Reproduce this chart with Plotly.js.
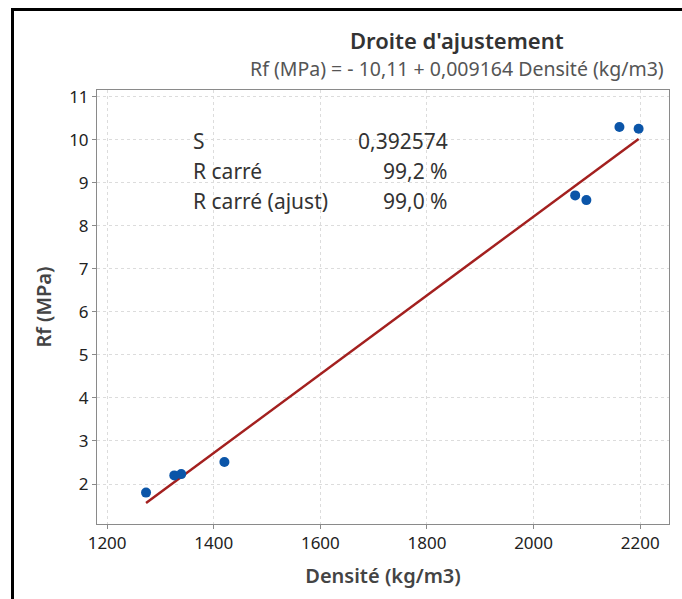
<!DOCTYPE html>
<html>
<head>
<meta charset="utf-8">
<script src="https://cdn.plot.ly/plotly-3.0.1.min.js"></script>
<style>
html,body{margin:0;padding:0;background:#fff;}
#wrap{position:relative;width:682px;height:599px;}
#chart{position:absolute;left:0;top:0;width:682px;height:599px;}
#frame{position:absolute;left:11px;top:8px;width:700px;height:620px;border-left:3px solid #000;border-top:3px solid #000;pointer-events:none;}
</style>
</head>
<body>
<div id="wrap"><div id="chart"></div><div id="frame"></div></div>
<script>
// Data
const densite = [1273, 1326, 1339, 1420, 2078, 2099, 2161, 2197];
const rf = [1.80, 2.20, 2.23, 2.51, 8.71, 8.60, 10.30, 10.26];
const intercept = -10.11;
const slope = 0.009164;
const statLabels = ["S", "R carré", "R carré (ajust)"];
const statValues = ["0,392574", "99,2 %", "99,0 %"];
const xTicks = [1200, 1400, 1600, 1800, 2000, 2200];
const yTicks = [2, 3, 4, 5, 6, 7, 8, 9, 10, 11];

const xMin = Math.min(...densite), xMax = Math.max(...densite);
const fitX = [xMin, xMax];
const fitY = fitX.map(v => intercept + slope * v);

const font = "Noto Sans, Open Sans, sans-serif";
const traces = [
  {x: fitX, y: fitY, type: 'scatter', mode: 'lines',
   line: {color: '#A3201F', width: 2.5}, hoverinfo: 'skip'},
  {x: densite, y: rf, type: 'scatter', mode: 'markers',
   marker: {color: '#0B55A8', size: 10, symbol: 'circle'}}
];

const statY = [0.8825, 0.814, 0.745];
const annotations = [
  {text: "Droite d'ajustement", xref: 'paper', yref: 'paper', x: 0.629, y: 1.1152,
   xanchor: 'center', yanchor: 'middle', showarrow: false,
   font: {family: font, size: 22, color: '#333', weight: 600}},
  {text: "Rf (MPa) = - 10,11 + 0,009164 Densité (kg/m3)", xref: 'paper', yref: 'paper', x: 0.630, y: 1.0484,
   xanchor: 'center', yanchor: 'middle', showarrow: false,
   font: {family: font, size: 19.5, color: '#555'}}
];
statLabels.forEach((t, i) => {
  annotations.push({text: t, xref: 'paper', yref: 'paper', x: 0.164, y: statY[i],
    xanchor: 'left', yanchor: 'middle', showarrow: false,
    font: {family: font, size: 21, color: '#333'}});
  annotations.push({text: statValues[i], xref: 'paper', yref: 'paper', x: 0.618, y: statY[i],
    xanchor: 'right', yanchor: 'middle', showarrow: false,
    font: {family: font, size: 21, color: '#333'}});
});

const layout = {
  width: 682, height: 599,
  margin: {l: 97, r: 13, t: 90, b: 75},
  paper_bgcolor: '#fff', plot_bgcolor: '#fff',
  showlegend: false,
  font: {family: font, color: '#333'},
  xaxis: {
    range: [1181, 2254], tickvals: xTicks, ticktext: xTicks.map(String),
    showline: true, linecolor: '#8a8a8a', linewidth: 1, mirror: true,
    ticks: 'outside', ticklen: 4, tickcolor: '#8a8a8a',
    showgrid: true, gridcolor: '#dcdcdc', griddash: 'dot', zeroline: false,
    tickfont: {family: font, size: 17, color: '#222'},
    title: {text: 'Densité (kg/m3)', standoff: 15, font: {family: font, size: 20, color: '#444', weight: 600}}
  },
  yaxis: {
    range: [1.07, 11.16], tickvals: yTicks, ticktext: yTicks.map(String),
    showline: true, linecolor: '#8a8a8a', linewidth: 1, mirror: true,
    ticks: 'outside', ticklen: 4, tickcolor: '#8a8a8a',
    showgrid: true, gridcolor: '#dcdcdc', griddash: 'dot', zeroline: false,
    tickfont: {family: font, size: 17, color: '#222'},
    title: {text: 'Rf (MPa)', standoff: 12, font: {family: font, size: 20, color: '#444', weight: 600}}
  },
  annotations: annotations
};

Plotly.newPlot('chart', traces, layout, {displayModeBar: false, staticPlot: true});
</script>
</body>
</html>
